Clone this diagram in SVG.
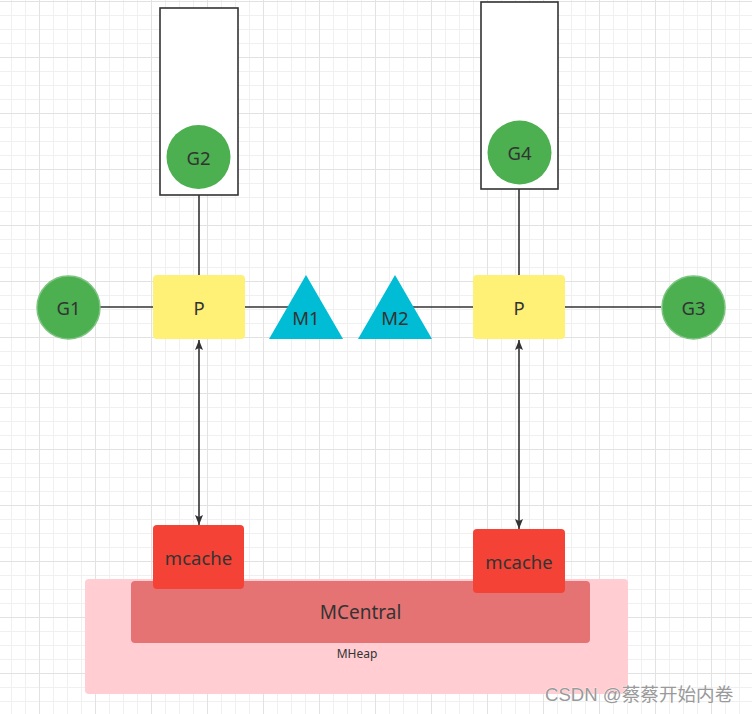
<svg xmlns="http://www.w3.org/2000/svg" width="752" height="714" viewBox="0 0 752 714">
<defs>
<pattern id="grid" x="39" y="1" width="56" height="56" patternUnits="userSpaceOnUse">
<path d="M14.5 0V56M28.5 0V56M42.5 0V56M0 14.5H56M0 28.5H56M0 42.5H56" stroke="#f0f0f0" stroke-width="1" fill="none"/>
<path d="M0.5 0V56M0 0.5H56" stroke="#e2e2e2" stroke-width="1" fill="none"/>
</pattern>
<marker id="arr" viewBox="0 0 10 8" refX="10" refY="4" markerWidth="10" markerHeight="8" markerUnits="userSpaceOnUse" orient="auto-start-reverse">
<path d="M0 0L10 4L0 8L2 4Z" fill="#333"/>
</marker>
</defs>
<style>
.lbl{font-family:"Noto Sans","Open Sans",sans-serif;fill:#333;text-anchor:middle;dominant-baseline:central}
.ln{stroke:#333;stroke-width:1.6;fill:none}
.g{fill:#4caf50}
.gs{fill:#4caf50;stroke:#7cc47f;stroke-width:1.5}
.p{fill:#fff176}
.m{fill:#00bcd4}
.mc{fill:#f44336}
</style>
<rect width="752" height="714" fill="#fff"/>
<rect width="752" height="714" fill="url(#grid)"/>

<g id="mheap">
<rect x="85" y="579" width="543" height="115" rx="4" fill="#ffcdd2"/>
<text class="lbl" x="357" y="653" font-size="12">MHeap</text>
</g>
<g id="mcentral">
<rect x="131" y="581" width="459" height="62" rx="4" fill="#e57373"/>
<text class="lbl" x="360.5" y="612" font-size="19">MCentral</text>
</g>

<g id="connectors">
<path class="ln" d="M199 195V275"/>
<path class="ln" d="M519 189V275"/>
<path class="ln" d="M100 307H153"/>
<path class="ln" d="M245 307H300"/>
<path class="ln" d="M400 307H473"/>
<path class="ln" d="M565 307H661"/>
<path class="ln" d="M199 340V525" marker-start="url(#arr)" marker-end="url(#arr)"/>
<path class="ln" d="M519 340V529" marker-start="url(#arr)" marker-end="url(#arr)"/>
</g>

<g id="stack1">
<rect x="160" y="8" width="78" height="187" fill="#fff" stroke="#333" stroke-width="1.6"/>
</g>
<g id="G2">
<circle class="g" cx="198.5" cy="157" r="32"/>
<text class="lbl" x="198.5" y="157" font-size="18.5">G2</text>
</g>
<g id="stack2">
<rect x="481" y="2" width="77" height="187" fill="#fff" stroke="#333" stroke-width="1.6"/>
</g>
<g id="G4">
<circle class="g" cx="519.5" cy="152.5" r="32"/>
<text class="lbl" x="519.5" y="152.5" font-size="18.5">G4</text>
</g>
<g id="G1">
<circle class="gs" cx="68.5" cy="307.5" r="31.5"/>
<text class="lbl" x="68.5" y="307.5" font-size="18.5">G1</text>
</g>
<g id="P1">
<rect class="p" x="153" y="275" width="92" height="64" rx="4"/>
<text class="lbl" x="199" y="307" font-size="18.5">P</text>
</g>
<g id="M1">
<path class="m" d="M306 275L343 339H269Z"/>
<text class="lbl" x="306" y="317" font-size="18.5">M1</text>
</g>
<g id="M2">
<path class="m" d="M395 275L432 339H358Z"/>
<text class="lbl" x="395" y="317" font-size="18.5">M2</text>
</g>
<g id="P2">
<rect class="p" x="473" y="275" width="92" height="64" rx="4"/>
<text class="lbl" x="519" y="307" font-size="18.5">P</text>
</g>
<g id="G3">
<circle class="gs" cx="693.5" cy="307.5" r="31.5"/>
<text class="lbl" x="693.5" y="307.5" font-size="18.5">G3</text>
</g>
<g id="mcache1">
<rect class="mc" x="153" y="525" width="91" height="64" rx="4"/>
<text class="lbl" x="198.5" y="557" font-size="18.5">mcache</text>
</g>
<g id="mcache2">
<rect class="mc" x="473" y="529" width="92" height="64" rx="4"/>
<text class="lbl" x="519" y="561" font-size="18.5">mcache</text>
</g>
<text x="545" y="701" font-family="Liberation Sans,Noto Sans CJK SC,sans-serif" font-size="18.6" fill="#9a9a9a" stroke="#ffffff" stroke-width="0.6" paint-order="stroke">CSDN @蔡蔡开始内卷</text>
</svg>
